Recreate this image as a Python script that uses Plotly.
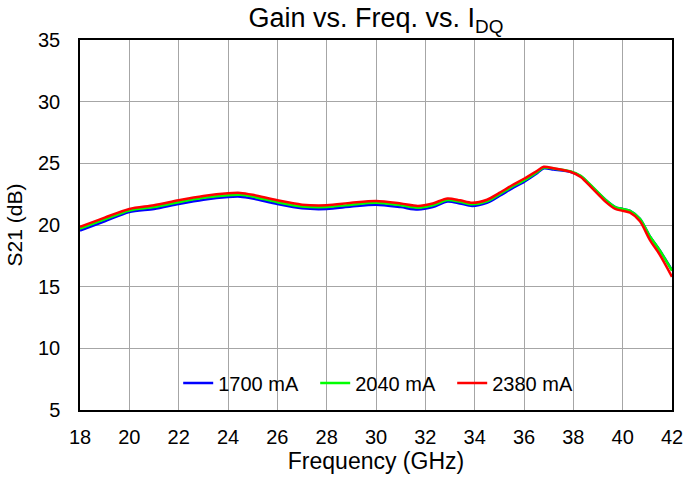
import plotly.graph_objects as go

freq = [18, 19, 20, 21, 22, 23, 24, 24.5, 25, 26, 27, 28, 29, 30, 31, 31.7, 32.3, 32.9, 33.4, 33.9,
        34.5, 35, 35.5, 36, 36.5, 36.8, 37.2, 37.9, 38.3, 38.8, 39.3, 39.7, 40, 40.3, 40.7, 41.1, 41.5, 42]
s21_1700 = [19.55, 20.3, 21.05, 21.3, 21.7, 22.05, 22.27, 22.3, 22.15, 21.7, 21.35, 21.3, 21.5, 21.65, 21.45,
            21.25, 21.45, 21.9, 21.75, 21.55, 21.8, 22.35, 22.95, 23.5, 24.15, 24.6, 24.5, 24.3, 23.95, 23.0,
            22.05, 21.45, 21.3, 21.15, 20.5, 19.1, 17.95, 16.35]
s21_2040 = [19.7, 20.45, 21.18, 21.45, 21.85, 22.2, 22.42, 22.45, 22.3, 21.85, 21.5, 21.45, 21.65, 21.8, 21.6,
            21.4, 21.6, 22.02, 21.88, 21.68, 21.92, 22.48, 23.08, 23.62, 24.25, 24.66, 24.58, 24.35, 24.0, 23.05,
            22.05, 21.45, 21.3, 21.15, 20.5, 19.1, 17.95, 16.3]
s21_2380 = [19.85, 20.6, 21.3, 21.6, 22.0, 22.35, 22.57, 22.6, 22.45, 22.0, 21.65, 21.6, 21.8, 21.95, 21.75,
            21.55, 21.75, 22.15, 22.0, 21.8, 22.05, 22.6, 23.2, 23.75, 24.35, 24.72, 24.6, 24.3, 23.9, 22.9,
            21.9, 21.3, 21.15, 21.0, 20.3, 18.8, 17.6, 15.8]

series = [("1700 mA", s21_1700, "#0000ff"),
          ("2040 mA", s21_2040, "#00ff00"),
          ("2380 mA", s21_2380, "#ff0000")]

fig = go.Figure()
for name, ys, col in series:
    fig.add_trace(go.Scatter(x=freq, y=ys, name=name, mode="lines",
                             line=dict(color=col, width=2.5, shape="spline", smoothing=0.8)))

font = "Liberation Sans, Arial, sans-serif"
fig.update_layout(
    width=684, height=479,
    margin=dict(l=80, r=12, t=40, b=69),
    paper_bgcolor="white", plot_bgcolor="white",
    font=dict(family=font, size=20, color="black"),
    title=dict(text="Gain vs. Freq. vs. I<sub>DQ</sub>", x=0.5, xref="paper", xanchor="center",
               y=1 - 18 / 479, yref="container", yanchor="middle", font=dict(size=27)),
    showlegend=True,
    legend=dict(orientation="h", x=0.513, xanchor="center", y=0.073, yanchor="middle",
                bgcolor="rgba(255,255,255,0)", font=dict(size=20), entrywidth=92),
    xaxis=dict(title=dict(text="Frequency (GHz)", standoff=3, font=dict(size=23)), range=[18, 42], dtick=2, tick0=18,
               showgrid=True, gridcolor="#a6a6a6", gridwidth=1,
               showline=True, linecolor="black", linewidth=1.5, mirror=True, automargin=False,
               ticks="", zeroline=False, tickfont=dict(size=20), ticklabelstandoff=8),
    yaxis=dict(title=dict(text="S21 (dB)", standoff=10, font=dict(size=21)), range=[5, 35], dtick=5, tick0=5,
               showgrid=True, gridcolor="#a6a6a6", gridwidth=1,
               showline=True, linecolor="black", linewidth=1.5, mirror=True, automargin=False,
               ticks="", zeroline=False, tickfont=dict(size=20), ticklabelstandoff=14),
)
fig.write_html("out.html", config={"displayModeBar": False},
               post_script="document.body.style.margin='0';")
